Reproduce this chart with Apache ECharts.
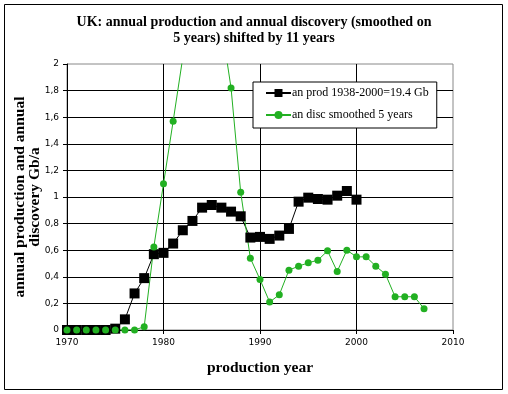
<!DOCTYPE html>
<html><head><meta charset="utf-8">
<script src="https://cdn.jsdelivr.net/npm/echarts@6/dist/echarts.min.js"></script>
<style>html,body{margin:0;padding:0;background:#fff}#c{width:508px;height:394px}</style>
</head><body><div id="c"></div>
<script>
var prodYears = [1970,1971,1972,1973,1974,1975,1976,1977,1978,1979,1980,1981,1982,1983,1984,1985,1986,1987,1988,1989,1990,1991,1992,1993,1994,1995,1996,1997,1998,1999,2000];
var prodValues = [0,0,0,0,0,0.01,0.08,0.275,0.39,0.57,0.58,0.65,0.75,0.82,0.92,0.94,0.92,0.89,0.855,0.695,0.70,0.685,0.71,0.76,0.965,0.995,0.985,0.98,1.01,1.045,0.98];
var discYears = [1970,1971,1972,1973,1974,1975,1976,1977,1978,1979,1980,1981,1982,1983,1984,1985,1986,1987,1988,1989,1990,1991,1992,1993,1994,1995,1996,1997,1998,1999,2000,2001,2002,2003,2004,2005,2006,2007];
var discValues = [0,0,0,0,0,0,0,0,0.025,0.625,1.10,1.57,2.05,2.5,2.8,2.7,2.3,1.82,1.035,0.54,0.38,0.21,0.265,0.45,0.48,0.505,0.525,0.595,0.44,0.60,0.55,0.55,0.48,0.42,0.25,0.25,0.25,0.16];
var xTicks = {min:1970, max:2010, step:10};
var yTicks = {min:0, max:2, step:0.2};
var titleText = 'UK: annual production and annual discovery (smoothed on\n5 years) shifted by 11 years';
var prodName = 'an prod 1938-2000=19.4 Gb';
var discName = 'an disc smoothed 5 years';

function pairs(xs, ys){ return xs.map(function(x,i){return [x, ys[i]];}); }
var green = '#22b022';
var chart = echarts.init(document.getElementById('c'), null, {renderer:'canvas'});
chart.setOption({
  animation:false,
  backgroundColor:'#fff',
  title:{text:titleText,left:'center',top:9,textStyle:{fontFamily:'Liberation Serif',fontWeight:'bold',fontSize:14,lineHeight:16,color:'#000'}},
  graphic:[{type:'rect',shape:{x:4.5,y:4.5,width:498,height:385},style:{fill:null,stroke:'#000',lineWidth:1},silent:true}],
  legend:{orient:'vertical',left:253,top:82,backgroundColor:'#fff',borderColor:'#000',borderWidth:1,borderRadius:0,
    padding:[5,8,7,12],itemGap:10,itemWidth:25,itemHeight:10,
    textStyle:{fontFamily:'Liberation Serif',fontSize:12,color:'#000',padding:[0,0,0,-4]},
    data:[{name:prodName},{name:discName}]},
  grid:{left:67,right:55,top:64,bottom:64,show:true,borderColor:'#888',borderWidth:1,containLabel:false,outerBoundsMode:'none'},
  xAxis:{type:'value',min:xTicks.min,max:xTicks.max,interval:xTicks.step,
    name:'production year',nameLocation:'middle',nameGap:30,nameMoveOverlap:false,
    nameTextStyle:{fontFamily:'Liberation Serif',fontWeight:'bold',fontSize:15.5,color:'#000'},
    axisLine:{lineStyle:{color:'#000',width:1}},axisTick:{show:true,length:4,lineStyle:{color:'#000'}},
    axisLabel:{fontFamily:'DejaVu Sans',fontSize:9,color:'#000',margin:8,formatter:function(v){return String(v);}},
    splitLine:{show:true,showMinLine:false,showMaxLine:false,lineStyle:{color:'#000',width:1}}},
  yAxis:{type:'value',min:yTicks.min,max:yTicks.max,interval:yTicks.step,
    name:'annual production and annual\ndiscovery Gb/a',nameLocation:'middle',nameGap:25,nameRotate:90,nameMoveOverlap:false,
    nameTextStyle:{fontFamily:'Liberation Serif',fontWeight:'bold',fontSize:15.5,lineHeight:15,color:'#000'},
    axisLine:{show:true,lineStyle:{color:'#000',width:1}},axisTick:{show:true,length:4,lineStyle:{color:'#000'}},
    axisLabel:{fontFamily:'DejaVu Sans',fontSize:9,color:'#000',margin:8,formatter:function(v){return String(Math.round(v*10)/10).replace('.',',');}},
    splitLine:{show:true,showMinLine:false,showMaxLine:false,lineStyle:{color:'#000',width:1}}},
  series:[
    {name:prodName,type:'line',data:pairs(prodYears,prodValues),symbol:'rect',symbolSize:10,
     itemStyle:{color:'#000'},lineStyle:{color:'#000',width:1},clip:true},
    {name:discName,type:'line',data:pairs(discYears,discValues),symbol:'circle',symbolSize:7,
     itemStyle:{color:green},lineStyle:{color:green,width:1},clip:true}
  ]
});
</script></body></html>
